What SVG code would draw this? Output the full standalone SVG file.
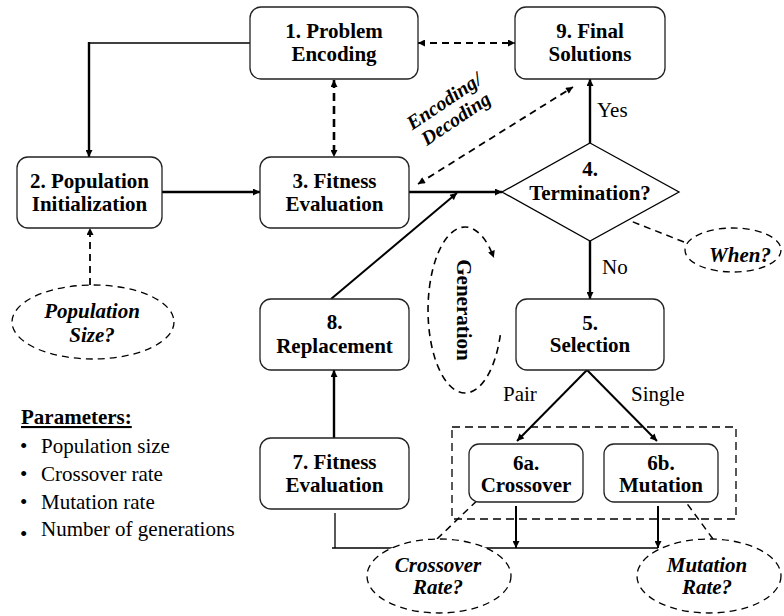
<svg xmlns="http://www.w3.org/2000/svg" width="784" height="616" viewBox="0 0 784 616">
<style>
.box{fill:#fff;stroke:#222;stroke-width:1.3}
.t{font-family:'Liberation Serif','Times New Roman',serif;font-size:21px;font-weight:bold;text-anchor:middle;fill:#000}
.bi{font-family:'Liberation Serif','Times New Roman',serif;font-size:21px;font-weight:bold;font-style:italic;text-anchor:middle;fill:#000}
.r{font-family:'Liberation Serif','Times New Roman',serif;font-size:21px;fill:#000}
.solid{fill:none;stroke:#000;stroke-width:2.4}
.thin{fill:none;stroke:#000;stroke-width:1.3}
.dash{fill:none;stroke:#000;stroke-width:1.8;stroke-dasharray:7 5}
.dashthick{fill:none;stroke:#000;stroke-width:2.6;stroke-dasharray:8 5}
.ell{fill:#fff;stroke:#000;stroke-width:1.3;stroke-dasharray:7 5}
</style>
<defs>
<marker id="ah" viewBox="0 0 10 10" refX="10" refY="5" markerUnits="userSpaceOnUse" markerWidth="8" markerHeight="7" orient="auto-start-reverse">
<path d="M0,0 L10,5 L0,10 z" fill="#000"/>
</marker>
</defs>

<g id="connectors">
<path class="thin" d="M250,43 H89"/>
<path class="solid" d="M89,42 V157" marker-end="url(#ah)"/>
<path class="dashthick" d="M334,80 V157" marker-start="url(#ah)" marker-end="url(#ah)"/>
<path class="dash" d="M418,43 H515" marker-start="url(#ah)" marker-end="url(#ah)"/>
<path class="dash" d="M418,184 L573,87" marker-start="url(#ah)" marker-end="url(#ah)"/>
<path class="solid" d="M162,192 H260" marker-end="url(#ah)"/>
<path class="solid" d="M409,192 H502" marker-end="url(#ah)"/>
<path class="solid" style="stroke-width:2" d="M331,299 L457,193" marker-end="url(#ah)"/>
<path class="solid" d="M590,143 V79" marker-end="url(#ah)"/>
<path class="solid" d="M590,241 V299" marker-end="url(#ah)"/>
<path class="dash" style="stroke-width:1.5" d="M684,242 L595,207" marker-end="url(#ah)"/>
<path class="dash" d="M90,285 V228" marker-end="url(#ah)"/>
<path class="solid" style="stroke-width:2" d="M587,370 L517,441" marker-end="url(#ah)"/>
<path class="solid" style="stroke-width:2" d="M587,370 L657,441" marker-end="url(#ah)"/>
<path class="solid" style="stroke-width:2" d="M516,506 V548" marker-end="url(#ah)"/>
<path class="solid" style="stroke-width:2" d="M658,506 V548" marker-end="url(#ah)"/>
<path class="thin" d="M332,548 H658"/>
<path class="thin" d="M335,513 V548"/>
<path class="solid" d="M334,438 V370" marker-end="url(#ah)"/>
<path class="dash" style="stroke-width:1.5" d="M437,539 L486,492" marker-end="url(#ah)"/>
<path class="dash" style="stroke-width:1.5" d="M713,539 L680,494" marker-end="url(#ah)"/>
<path class="dash" style="stroke-width:1.6" d="M500.3,335.1 A37,83 0 1 1 493.8,257.8" marker-end="url(#ah)"/>
</g>

<g id="node1">
<rect class="box" x="250" y="7" width="168" height="72" rx="11"/>
<text class="t" x="334" y="38">1. Problem</text>
<text class="t" x="334" y="61">Encoding</text>
</g>
<g id="node9">
<rect class="box" x="515" y="7" width="150" height="72" rx="11"/>
<text class="t" x="590" y="38">9. Final</text>
<text class="t" x="590" y="61">Solutions</text>
</g>
<g id="node2">
<rect class="box" x="17" y="157" width="145" height="71" rx="11"/>
<text class="t" x="89.5" y="188">2. Population</text>
<text class="t" x="89.5" y="211">Initialization</text>
</g>
<g id="node3">
<rect class="box" x="260" y="157" width="149" height="71" rx="11"/>
<text class="t" x="334.5" y="188">3. Fitness</text>
<text class="t" x="334.5" y="211">Evaluation</text>
</g>
<g id="node4">
<polygon points="590,143 679,192 590,241 502,192" fill="#fff" stroke="#000" stroke-width="1.3"/>
<text class="t" x="590" y="176">4.</text>
<text class="t" x="590" y="200">Termination?</text>
</g>
<g id="node5">
<rect class="box" x="516" y="299" width="148" height="71" rx="11"/>
<text class="t" x="590" y="330">5.</text>
<text class="t" x="590" y="352">Selection</text>
</g>
<g id="node8">
<rect class="box" x="260" y="299" width="149" height="71" rx="11"/>
<text class="t" x="334.5" y="329">8.</text>
<text class="t" x="334.5" y="353">Replacement</text>
</g>
<g id="node7">
<rect class="box" x="260" y="438" width="149" height="71" rx="11"/>
<text class="t" x="334.5" y="469">7. Fitness</text>
<text class="t" x="334.5" y="492">Evaluation</text>
</g>
<g id="group6">
<rect x="452" y="427" width="284" height="92" fill="none" stroke="#000" stroke-width="1.3" stroke-dasharray="8 5"/>
</g>
<g id="node6a">
<rect class="box" x="469" y="444" width="114" height="58" rx="10"/>
<text class="t" x="526" y="470">6a.</text>
<text class="t" x="526" y="492">Crossover</text>
</g>
<g id="node6b">
<rect class="box" x="604" y="444" width="114" height="58" rx="10"/>
<text class="t" x="661" y="470">6b.</text>
<text class="t" x="661" y="492">Mutation</text>
</g>

<g id="popsize">
<ellipse class="ell" cx="93" cy="322" rx="81" ry="37"/>
<text class="bi" x="92" y="318">Population</text>
<text class="bi" x="92" y="342">Size?</text>
</g>
<g id="when">
<ellipse class="ell" cx="733" cy="250" rx="48" ry="22"/>
<text class="bi" x="740" y="262">When?</text>
</g>
<g id="crossrate">
<ellipse class="ell" cx="439" cy="576" rx="72" ry="37"/>
<text class="bi" x="438" y="572">Crossover</text>
<text class="bi" x="438" y="594">Rate?</text>
</g>
<g id="mutrate">
<ellipse class="ell" cx="709" cy="576" rx="72" ry="37"/>
<text class="bi" x="707" y="572">Mutation</text>
<text class="bi" x="707" y="594">Rate?</text>
</g>

<g id="labels">
<g transform="translate(450,110) rotate(-34)">
<text class="bi" style="font-size:20px" x="0" y="-4">Encoding/</text>
<text class="bi" style="font-size:20px" x="0" y="17">Decoding</text>
</g>
<text class="t" transform="translate(457,310) rotate(90)" x="0" y="0">Generation</text>
<text class="r" x="597" y="117">Yes</text>
<text class="r" x="602" y="274">No</text>
<text class="r" x="503" y="401">Pair</text>
<text class="r" x="631" y="401">Single</text>
</g>

<g id="parameters">
<text class="t" style="text-anchor:start;text-decoration:underline" x="21" y="424">Parameters:</text>
<text class="r" x="20" y="453">•</text>
<text class="r" x="41" y="453">Population size</text>
<text class="r" x="20" y="481">•</text>
<text class="r" x="41" y="481">Crossover rate</text>
<text class="r" x="20" y="509">•</text>
<text class="r" x="41" y="509">Mutation rate</text>
<text class="r" x="20" y="541">•</text>
<text class="r" x="41" y="536">Number of generations</text>
</g>
</svg>
